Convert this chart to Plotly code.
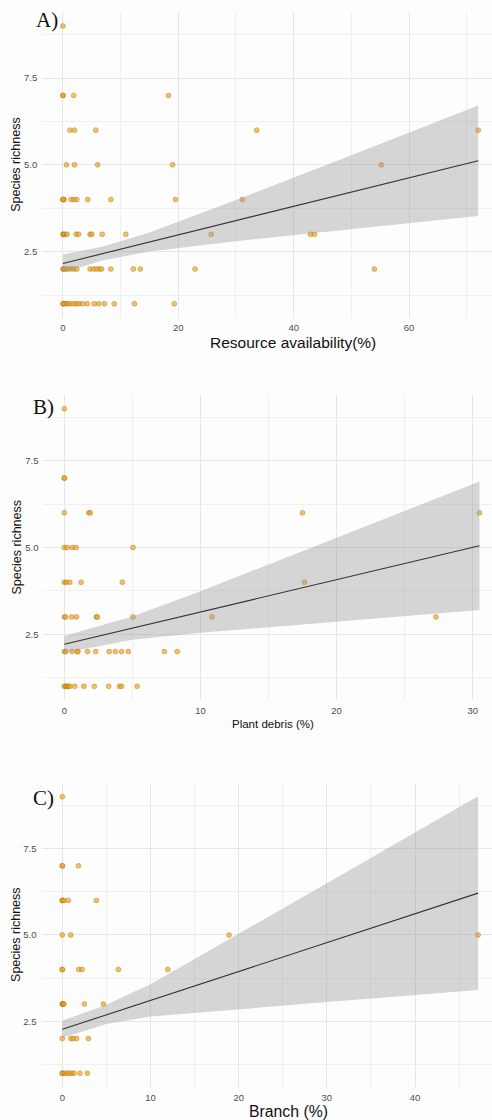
import plotly.graph_objects as go

# ---------------- data ----------------
# Panel A: resource availability (%) vs species richness
resource_pct = [0,
                0, 0, 1.85, 18.3,
                1.2, 2.0, 5.7, 33.6, 72.0,
                0.6, 2.0, 6.0, 19.0, 55.2,
                0, 0.2, 0, 1.4, 1.9, 2.4, 4.3, 8.3, 19.5, 31.1,
                0, 0.1, 0.3, 0.7, 2.3, 2.7, 4.7, 5.0, 6.8, 10.9, 25.7, 42.9, 43.6,
                0, 0.1, 0.4, 0.9, 1.4, 1.9, 2.4, 4.7, 5.3, 5.8, 6.3, 6.7, 8.3, 12.2, 13.4, 22.9, 54.0,
                0, 0.1, 0.35, 0.7, 1.0, 1.4, 1.9, 2.4, 2.8, 3.4, 4.2, 5.4, 6.2, 7.2, 8.9, 12.4, 19.3]
resource_rich = [9,
                 7, 7, 7, 7,
                 6, 6, 6, 6, 6,
                 5, 5, 5, 5, 5,
                 4, 4, 4, 4, 4, 4, 4, 4, 4, 4,
                 3, 3, 3, 3, 3, 3, 3, 3, 3, 3, 3, 3, 3,
                 2, 2, 2, 2, 2, 2, 2, 2, 2, 2, 2, 2, 2, 2, 2, 2, 2,
                 1, 1, 1, 1, 1, 1, 1, 1, 1, 1, 1, 1, 1, 1, 1, 1, 1]
resource_fit_x = [0, 72]
resource_fit_y = [2.16, 5.12]
resource_band_x = [0, 7, 15, 30, 50, 72]
resource_band_hi = [2.42, 2.645, 3.053, 3.985, 5.278, 6.71]
resource_band_lo = [1.90, 2.251, 2.501, 2.801, 3.154, 3.53]

# Panel B: plant debris (%) vs species richness
debris_pct = [0,
              0, 0,
              0, 1.8, 1.9, 17.5, 30.5,
              0, 0.2, 0.57, 0.86, 5.05,
              0, 0.15, 0.4, 1.23, 4.26, 17.65,
              0, 0.1, 0.54, 0.9, 2.35, 2.43, 5.05, 10.86, 27.3,
              0, 0.1, 0.57, 0.95, 1.0, 1.7, 2.3, 3.3, 3.75, 4.2, 4.7, 7.35, 8.3,
              0, 0.1, 0.2, 0.3, 0.4, 0.76, 1.43, 2.2, 3.26, 4.05, 4.2, 5.35]
debris_rich = [9,
               7, 7,
               6, 6, 6, 6, 6,
               5, 5, 5, 5, 5,
               4, 4, 4, 4, 4, 4,
               3, 3, 3, 3, 3, 3, 3, 3, 3,
               2, 2, 2, 2, 2, 2, 2, 2, 2, 2, 2, 2, 2,
               1, 1, 1, 1, 1, 1, 1, 1, 1, 1, 1, 1]
debris_fit_x = [0, 30.5]
debris_fit_y = [2.21, 5.05]
debris_band_x = [0, 5, 10, 20, 30.5]
debris_band_hi = [2.45, 3.009, 3.741, 5.274, 6.90]
debris_band_lo = [1.97, 2.343, 2.541, 2.870, 3.20]

# Panel C: branch (%) vs species richness
branch_pct = [0,
              0, 0, 1.82,
              0, 0, 0.2, 0.68, 3.86,
              0, 0.95, 18.9, 47.15,
              0, 0, 1.86, 2.24, 6.36, 11.96,
              0, 0, 0.1, 0.2, 2.5, 4.65,
              0, 0.95, 1.25, 1.63, 2.95,
              0, 0, 0.3, 0.57, 0.8, 1.07, 1.33, 2.0, 2.84]
branch_rich = [9,
               7, 7, 7,
               6, 6, 6, 6, 6,
               5, 5, 5, 5,
               4, 4, 4, 4, 4, 4,
               3, 3, 3, 3, 3, 3,
               2, 2, 2, 2, 2,
               1, 1, 1, 1, 1, 1, 1, 1, 1]
branch_fit_x = [0, 47.15]
branch_fit_y = [2.27, 6.21]
branch_band_x = [0, 5, 10, 20, 30, 47.15]
branch_band_hi = [2.515, 2.98, 3.575, 5.031, 6.495, 9.015]
branch_band_lo = [2.025, 2.42, 2.637, 2.851, 3.059, 3.405]

y_ticks = [2.5, 5.0, 7.5]
y_ticktext = ["2.5", "5.0", "7.5"]
y_minor = [1.25, 3.75, 6.25, 8.75]

W, H = 492, 1120

panels = [
    dict(label="A)", title="Resource availability(%)", title_size=15.5,
         x=resource_pct, y=resource_rich,
         fx=resource_fit_x, fy=resource_fit_y,
         bx=resource_band_x, bhi=resource_band_hi, blo=resource_band_lo,
         xdom=[42.2 / W, 1], xrange=[-3.6, 74.39], xticks=[0, 20, 40, 60], xminor=[10, 30, 50, 70],
         ytop=12.1, ybot=317.6, label_xy=(47, 20), title_xy=(293.4, 342)),
    dict(label="B)", title="Plant debris (%)", title_size=11.5,
         x=debris_pct, y=debris_rich,
         fx=debris_fit_x, fy=debris_fit_y,
         bx=debris_band_x, bhi=debris_band_hi, blo=debris_band_lo,
         xdom=[43.5 / W, 1], xrange=[-1.53, 31.42], xticks=[0, 10, 20, 30], xminor=[5, 15, 25],
         ytop=394.8, ybot=700.2, label_xy=(43, 407), title_xy=(272.5, 724)),
    dict(label="C)", title="Branch (%)", title_size=15.8,
         x=branch_pct, y=branch_rich,
         fx=branch_fit_x, fy=branch_fit_y,
         bx=branch_band_x, bhi=branch_band_hi, blo=branch_band_lo,
         xdom=[41.5 / W, 1], xrange=[-2.36, 48.73], xticks=[0, 10, 20, 30, 40], xminor=[5, 15, 25, 35, 45],
         ytop=782.9, ybot=1087.0, label_xy=(43, 798), title_xy=(288.8, 1111.5)),
]

fig = go.Figure()
annotations = []
layout_axes = {}
sans = "Liberation Sans, Arial, sans-serif"

for i, p in enumerate(panels, start=1):
    xa = "x" if i == 1 else f"x{i}"
    ya = "y" if i == 1 else f"y{i}"

    # observations
    fig.add_trace(go.Scatter(
        x=p["x"], y=p["y"], mode="markers", xaxis=xa, yaxis=ya, showlegend=False,
        marker=dict(size=5, color="rgba(242,160,10,0.66)",
                    line=dict(color="rgba(90,60,0,0.45)", width=0.5)),
        hoverinfo="skip"))
    # confidence band
    fig.add_trace(go.Scatter(
        x=p["bx"] + p["bx"][::-1], y=p["bhi"] + p["blo"][::-1],
        mode="lines", fill="toself", fillcolor="rgba(153,153,153,0.4)",
        line=dict(width=0), xaxis=xa, yaxis=ya, showlegend=False, hoverinfo="skip"))
    # linear fit
    fig.add_trace(go.Scatter(
        x=p["fx"], y=p["fy"], mode="lines", xaxis=xa, yaxis=ya, showlegend=False,
        line=dict(color="#333333", width=1.1), hoverinfo="skip"))

    xkey = "xaxis" if i == 1 else f"xaxis{i}"
    ykey = "yaxis" if i == 1 else f"yaxis{i}"
    layout_axes[xkey] = dict(
        domain=p["xdom"], range=p["xrange"], anchor=ya,
        tickvals=p["xticks"], ticks="", showline=False, zeroline=False,
        showgrid=True, gridcolor="#E6E6E6", gridwidth=1.1,
        minor=dict(tickvals=p["xminor"], showgrid=True, gridcolor="#F0F0F0", gridwidth=0.7),
        tickfont=dict(family=sans, size=9.5, color="#4D4D4D"), ticklabelstandoff=3)
    layout_axes[ykey] = dict(
        domain=[1 - p["ybot"] / H, 1 - p["ytop"] / H], range=[0.6, 9.4], anchor=xa,
        tickvals=y_ticks, ticktext=y_ticktext, ticks="", showline=False, zeroline=False,
        showgrid=True, gridcolor="#E6E6E6", gridwidth=1.1,
        minor=dict(tickvals=y_minor, showgrid=True, gridcolor="#F0F0F0", gridwidth=0.7),
        tickfont=dict(family=sans, size=9.5, color="#4D4D4D"), ticklabelstandoff=4)

    # panel letter
    lx, ly = p["label_xy"]
    annotations.append(dict(
        text=p["label"], x=lx / W, y=1 - ly / H, xref="paper", yref="paper",
        xanchor="center", yanchor="middle", showarrow=False,
        font=dict(family="Liberation Serif, Times New Roman, serif", size=21, color="#111111")))
    # x-axis title
    tx, ty = p["title_xy"]
    annotations.append(dict(
        text=p["title"], x=tx / W, y=1 - ty / H, xref="paper", yref="paper",
        xanchor="center", yanchor="middle", showarrow=False,
        font=dict(family=sans, size=p["title_size"], color="#111111")))
    # y-axis title
    annotations.append(dict(
        text="Species richness", x=16 / W, y=1 - (p["ytop"] + p["ybot"]) / 2 / H,
        xref="paper", yref="paper", xanchor="center", yanchor="middle",
        textangle=-90, showarrow=False,
        font=dict(family=sans, size=12.5, color="#111111")))

fig.update_layout(
    width=W, height=H, margin=dict(l=0, r=0, t=0, b=0),
    paper_bgcolor="#FDFDFD", plot_bgcolor="#FDFDFD",
    annotations=annotations, **layout_axes)

fig.write_html("out.html")
